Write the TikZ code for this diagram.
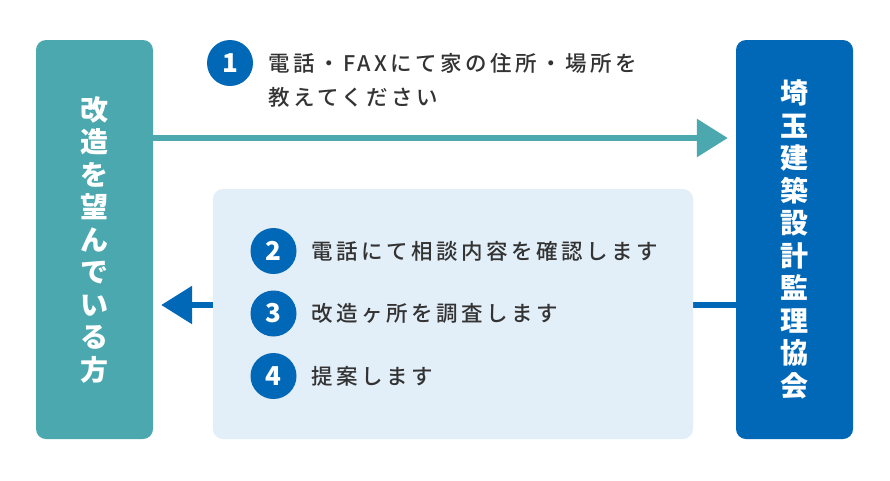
\documentclass[tikz,border=0pt]{standalone}
\usepackage{fontspec}
\setmainfont{Noto Sans CJK JP}
\newfontfamily\jpspaced{Noto Sans CJK JP Medium}[LetterSpace=16]
\usetikzlibrary{arrows.meta,positioning}
\definecolor{flowteal}{HTML}{4AA8AE}
\definecolor{flowblue}{HTML}{0068B7}
\definecolor{panelblue}{HTML}{E2EEF8}
\definecolor{textgray}{HTML}{333333}
\tikzset{
  sidebox/.style={rounded corners=10pt, minimum width=117pt, minimum height=399pt, inner sep=0pt,
    text=white, align=center, font=\bfseries\fontsize{28}{32.5}\selectfont},
  numdot/.style={circle, fill=flowblue, minimum size=46pt, inner sep=0pt, text=white,
    font=\bfseries\fontsize{26}{26}\selectfont},
  steptext/.style={anchor=west, inner sep=0pt, text=textgray, align=left,
    font=\jpspaced\fontsize{21.5}{34}\selectfont},
  flow/.style={line width=6pt, -{Triangle[length=31pt,width=37pt]}, shorten >=8pt}
}
\begin{document}
\begin{tikzpicture}[x=1pt,y=-1pt]
\fill[white] (0,0) rectangle (890,480);
\node[sidebox, fill=flowteal] (client) at (94.5,239.5) {改\\造\\を\\望\\ん\\で\\い\\る\\方};
\node[sidebox, fill=flowblue] (assoc) at (794.5,239.5) {埼\\玉\\建\\築\\設\\計\\監\\理\\協\\会};
\coordinate (toprow) at (0,138);
\coordinate (lowrow) at (0,305);
\draw[flow, draw=flowteal] (client.east |- toprow) -- (assoc.west |- toprow);
\draw[flow, draw=flowblue] (assoc.west |- lowrow) -- (client.east |- lowrow);
\node[fill=panelblue, rounded corners=10pt, minimum width=480pt, minimum height=250pt] (panel) at (453,314) {};
\node[numdot] (n1) at (230,63) {1};
\node[steptext] (s1) at ([xshift=15pt, yshift=-17pt]n1.east) {電話・FAXにて家の住所・場所を\\教えてください};
\foreach \i/\y/\txt in {2/251/{電話にて相談内容を確認します},3/313.5/{改造ヶ所を調査します},4/376/{提案します}} {
  \node[numdot] (n\i) at (273.5,\y) {\i};
  \node[steptext, right=15pt of n\i] (s\i) {\txt};
}
\end{tikzpicture}
\end{document}
